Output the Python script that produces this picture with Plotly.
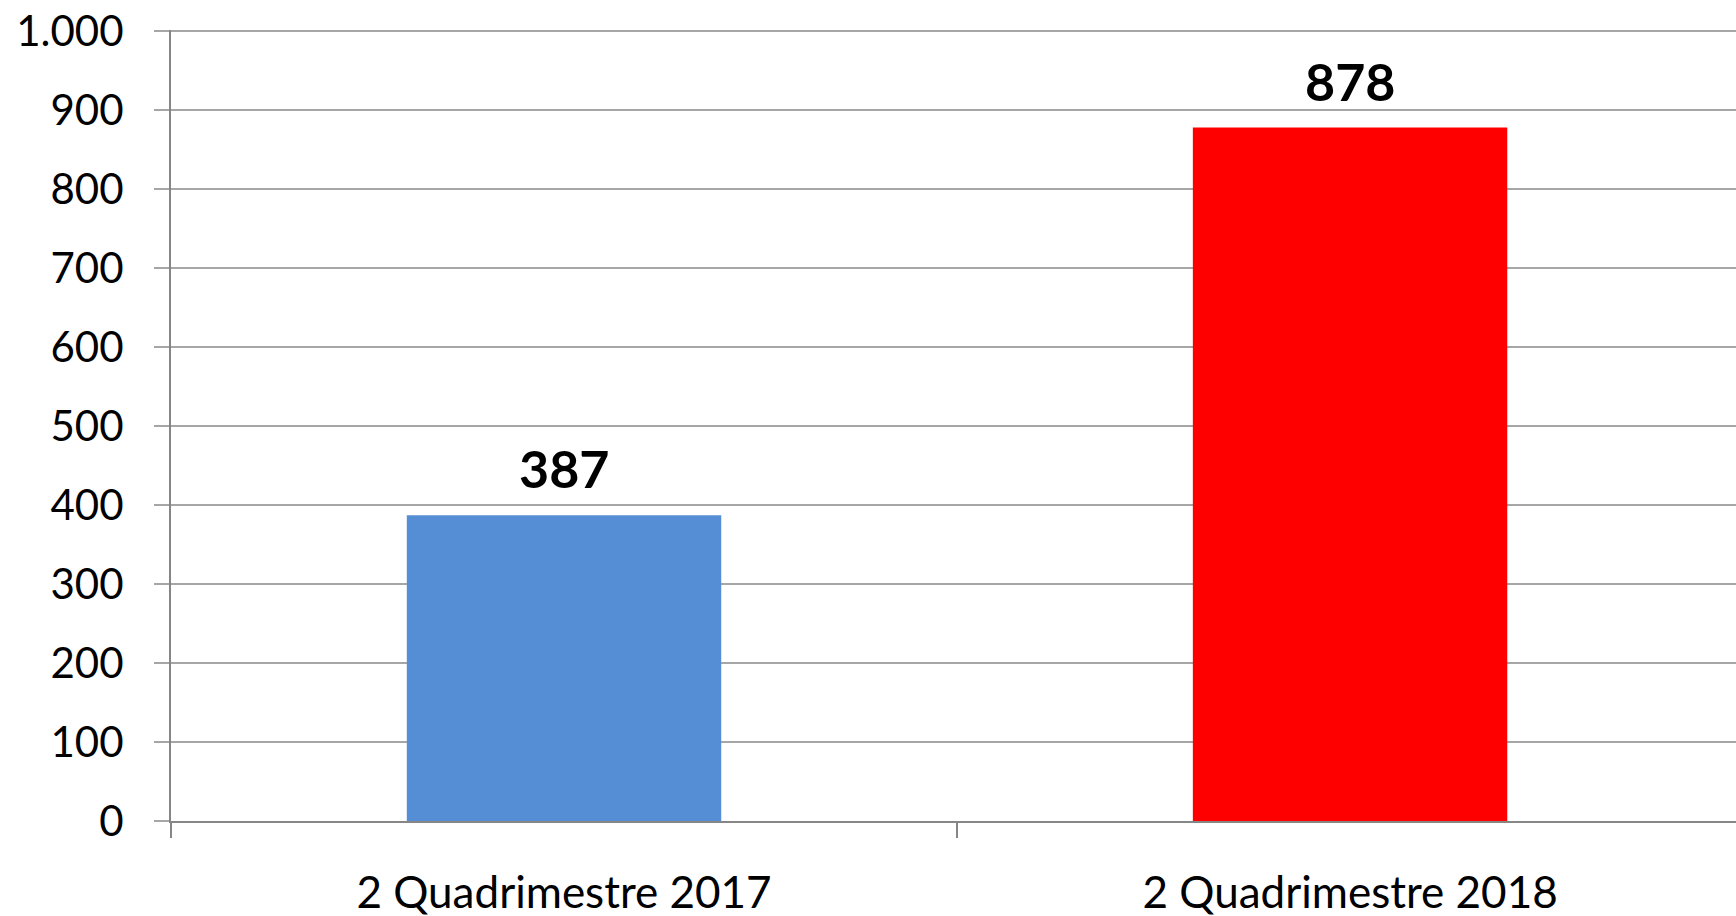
"""Bar chart: 2 Quadrimestre 2017 vs 2018."""

import plotly.graph_objects as go

categories = ["2 Quadrimestre 2017", "2 Quadrimestre 2018"]
values = [387, 878]
bar_colors = ["#558ED5", "#FF0000"]
value_labels = ["387", "878"]

y_tickvals = [0, 100, 200, 300, 400, 500, 600, 700, 800, 900, 1000]
y_ticktext = ["0", "100", "200", "300", "400", "500", "600", "700", "800", "900", "1.000"]

FONT = "Lato, Calibri, Carlito, sans-serif"
AXIS_GREY = "#868686"

fig = go.Figure()
fig.add_trace(
    go.Bar(
        x=categories,
        y=values,
        width=0.4,
        marker=dict(color=bar_colors, line=dict(width=0)),
        hoverinfo="x+y",
    )
)

# bold value labels above each bar
annotations = [
    dict(
        x=cat,
        y=val,
        text=f"<b>{lab}</b>",
        xref="x",
        yref="y",
        yanchor="bottom",
        yshift=14,
        showarrow=False,
        font=dict(family=FONT, size=52, color="#000000"),
    )
    for cat, val, lab in zip(categories, values, value_labels)
]

fig.update_layout(
    width=1736,
    height=916,
    margin=dict(l=171, r=0, t=30, b=95),
    paper_bgcolor="white",
    plot_bgcolor="white",
    showlegend=False,
    font=dict(family=FONT, size=42, color="#000000"),
    annotations=annotations,
    xaxis=dict(
        type="category",
        range=[-0.5, 1.491],
        showgrid=False,
        showline=True,
        linecolor=AXIS_GREY,
        linewidth=2,
        ticks="outside",
        tickson="boundaries",
        ticklen=15,
        tickwidth=1.5,
        tickcolor=AXIS_GREY,
        ticklabelstandoff=32,
        tickfont=dict(family=FONT, size=44),
        zeroline=False,
    ),
    yaxis=dict(
        range=[0, 1001.5],  # a hair of headroom so the 1.000 tick is kept
        tickvals=y_tickvals,
        ticktext=y_ticktext,
        showgrid=True,
        gridcolor="#a6a6a6",
        gridwidth=1.5,
        showline=True,
        linecolor=AXIS_GREY,
        linewidth=2,
        ticks="outside",
        ticklen=15,
        tickwidth=1.5,
        tickcolor="#a6a6a6",
        ticklabelstandoff=22,
        tickfont=dict(family=FONT, size=42),
        zeroline=False,
    ),
)

# drop the default 8px body margin so the figure sits flush in the window
fig.write_html(
    "out.html",
    config={"displayModeBar": False},
    post_script="document.body.style.margin = '0';",
)
